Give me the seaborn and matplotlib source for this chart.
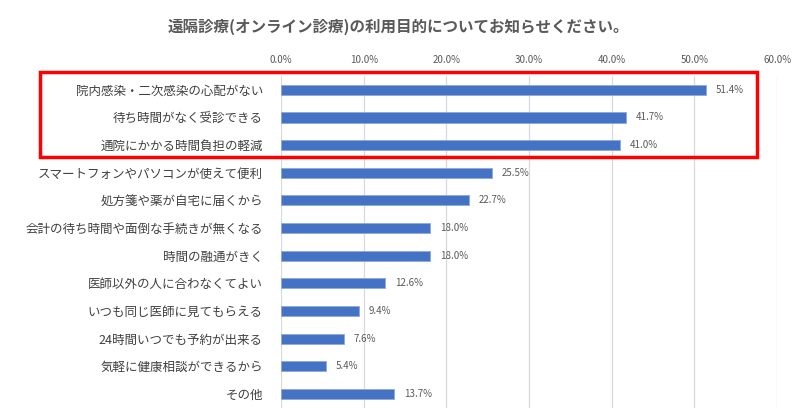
import pandas as pd
import seaborn as sns
import matplotlib.pyplot as plt
from matplotlib.patches import Rectangle
from matplotlib.ticker import FuncFormatter

purposes = [
    '院内感染・二次感染の心配がない',
    '待ち時間がなく受診できる',
    '通院にかかる時間負担の軽減',
    'スマートフォンやパソコンが使えて便利',
    '処方箋や薬が自宅に届くから',
    '会計の待ち時間や面倒な手続きが無くなる',
    '時間の融通がきく',
    '医師以外の人に合わなくてよい',
    'いつも同じ医師に見てもらえる',
    '24時間いつでも予約が出来る',
    '気軽に健康相談ができるから',
    'その他',
]
shares = [51.4, 41.7, 41.0, 25.5, 22.7, 18.0, 18.0, 12.6, 9.4, 7.6, 5.4, 13.7]

df = pd.DataFrame({'purpose': purposes, 'share': shares})

sns.set_theme(style='white')
plt.rcParams['font.family'] = ['Noto Sans CJK JP', 'DejaVu Sans']

fig = plt.figure(figsize=(7.97, 4.17), dpi=100)
ax = fig.add_axes([0.3526, 0.022, 0.6224, 0.796])

sns.barplot(data=df, x='share', y='purpose', color='#4472C4', saturation=1,
            width=0.37, edgecolor='#8EA9DB', linewidth=0.6, ax=ax)

ax.set_xlim(0, 60)
ax.set_xticks(range(0, 61, 10))
ax.xaxis.set_major_formatter(FuncFormatter(lambda v, p: f'{v:.1f}%'))
ax.xaxis.tick_top()
ax.tick_params(axis='x', length=0, labelsize=7, colors='#595959', pad=8)
ax.tick_params(axis='y', length=0, labelsize=9, colors='#404040', pad=13)
ax.grid(axis='x', color='#D9D9D9', linewidth=0.9)
ax.set_axisbelow(True)
for s in ax.spines.values():
    s.set_visible(False)
ax.set_xlabel('')
ax.set_ylabel('')

for i, v in enumerate(shares):
    ax.text(v + 1.2, i, f'{v:.1f}%', va='center', ha='left', fontsize=7, color='#595959')

fig.text(0.5, 0.935, '遠隔診療(オンライン診療)の利用目的についてお知らせください。',
         ha='center', va='center', fontsize=11.2, color='#595959', fontweight='bold')

# red highlight box around top three items
fig.patches.append(Rectangle((40 / 797, 1 - 157 / 417), 717 / 797, 85 / 417,
                             transform=fig.transFigure, fill=False,
                             edgecolor='#FF0000', linewidth=2.5))

fig.savefig('out.png', dpi=100)
